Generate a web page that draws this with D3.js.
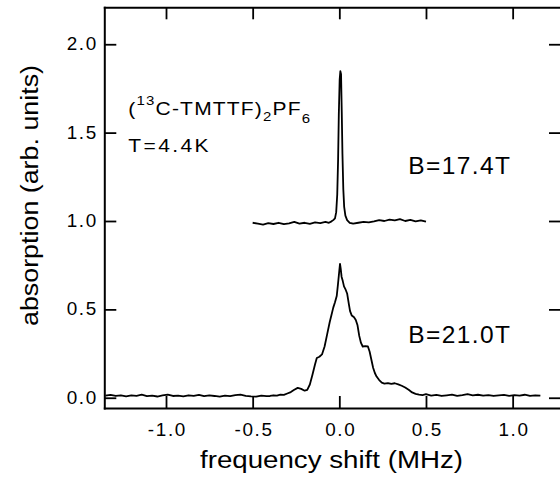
<!DOCTYPE html>
<html>
<head>
<meta charset="utf-8">
<script src="https://cdn.jsdelivr.net/npm/d3@7"></script>
<style>
body { margin: 0; background: #fff; }
svg { display: block; font-family: "Liberation Sans", Arial, Helvetica, sans-serif; }
</style>
</head>
<body>
<svg id="chart" width="560" height="478"></svg>
<script>
// axis ticks
var xTicks = [-1.0, -0.5, 0.0, 0.5, 1.0];
var xTickLabels = ["-1.0", "-0.5", "0.0", "0.5", "1.0"];
var yTicks = [0.0, 0.5, 1.0, 1.5, 2.0];
var yTickLabels = ["0.0", "0.5", "1.0", "1.5", "2.0"];

// B=21.0T spectrum
var freq21 = [-1.35, -1.32, -1.29, -1.26, -1.23, -1.20, -1.17, -1.14, -1.11, -1.08, -1.05, -1.02,
  -0.99, -0.96, -0.93, -0.90, -0.87, -0.84, -0.81, -0.78, -0.75, -0.72, -0.69, -0.66, -0.63,
  -0.60, -0.57, -0.54, -0.51, -0.48, -0.45, -0.42, -0.40, -0.38, -0.36, -0.34, -0.32, -0.30,
  -0.28, -0.26, -0.24, -0.22, -0.20, -0.185, -0.17, -0.155, -0.14, -0.13, -0.115, -0.10,
  -0.085, -0.07, -0.055, -0.045, -0.035, -0.025, -0.015, -0.008, 0.0, 0.004, 0.008, 0.013,
  0.020, 0.027, 0.035, 0.045, 0.055, 0.062, 0.072, 0.085, 0.095, 0.105, 0.115, 0.125, 0.135,
  0.150, 0.165, 0.175, 0.185, 0.195, 0.205, 0.215, 0.23, 0.245, 0.26, 0.28, 0.30, 0.32, 0.34,
  0.36, 0.38, 0.40, 0.42, 0.44, 0.46, 0.48, 0.50, 0.53, 0.56, 0.59, 0.62, 0.65, 0.68, 0.71,
  0.74, 0.77, 0.80, 0.83, 0.86, 0.89, 0.92, 0.95, 0.98, 1.01, 1.04, 1.07, 1.10, 1.13, 1.16];
var abs21 = [0.012, 0.016, 0.010, 0.014, 0.008, 0.013, 0.011, 0.017, 0.009, 0.012, 0.007, 0.013,
  0.018, 0.010, 0.012, 0.008, 0.014, 0.011, 0.016, 0.009, 0.013, 0.010, 0.006, 0.012, 0.009,
  0.015, 0.018, 0.011, 0.008, 0.006, 0.012, 0.009, 0.010, 0.014, 0.012, 0.018, 0.016, 0.024,
  0.032, 0.045, 0.056, 0.050, 0.040, 0.045, 0.075, 0.13, 0.19, 0.225, 0.232, 0.245,
  0.29, 0.36, 0.43, 0.47, 0.51, 0.54, 0.575, 0.64, 0.72, 0.757, 0.73, 0.685,
  0.66, 0.63, 0.615, 0.59, 0.53, 0.49, 0.465, 0.455, 0.44, 0.41, 0.35, 0.31, 0.29,
  0.292, 0.29, 0.26, 0.215, 0.17, 0.14, 0.12, 0.10, 0.085, 0.08, 0.083, 0.078, 0.082, 0.076,
  0.068, 0.058, 0.045, 0.030, 0.022, 0.018, 0.015, 0.020, 0.012, 0.016, 0.010, 0.014, 0.018, 0.011, 0.015,
  0.020, 0.013, 0.017, 0.012, 0.015, 0.010, 0.014, 0.016, 0.011, 0.015, 0.012, 0.017, 0.011, 0.014, 0.012];

// B=17.4T spectrum, offset by 1
var freq17 = [-0.50, -0.47, -0.44, -0.41, -0.38, -0.35, -0.32, -0.29, -0.26, -0.23, -0.20, -0.17,
  -0.14, -0.11, -0.08, -0.06, -0.045, -0.035, -0.025, -0.018, -0.012, -0.007, -0.003, 0.002,
  0.006, 0.010, 0.014, 0.018, 0.023, 0.028, 0.035, 0.045, 0.06, 0.08, 0.11, 0.14, 0.17, 0.20,
  0.23, 0.26, 0.29, 0.32, 0.35, 0.38, 0.41, 0.44, 0.47, 0.50];
var abs17 = [0.990, 0.985, 0.980, 0.988, 0.983, 0.990, 0.982, 0.987, 0.995, 0.985, 0.990, 0.984,
  0.992, 0.988, 0.995, 0.990, 0.998, 1.005, 1.015, 1.05, 1.15, 1.35, 1.60, 1.80,
  1.848, 1.83, 1.62, 1.38, 1.18, 1.08, 1.03, 1.005, 0.99, 0.985, 0.99, 0.995, 0.992, 0.998,
  1.005, 1.0, 1.008, 1.003, 1.01, 1.0, 1.006, 0.998, 1.004, 0.996];

var svg = d3.select("#chart");

var x = d3.scaleLinear().domain([-1.356, 1.279]).range([104.3, 561]);
var y = d3.scaleLinear().domain([-0.058, 2.209]).range([408, 7.3]);

function styleAxis(g) {
  g.attr("font-family", null).attr("font-size", null);
  g.select(".domain").attr("stroke", "#000").attr("stroke-width", 2).attr("stroke-linecap", "square");
  g.selectAll(".tick line").attr("stroke", "#000").attr("stroke-width", 1.8);
  g.selectAll(".tick text").attr("fill", "#000").style("font-size", "17.5px").style("letter-spacing", "1.5px");
}

// bottom
svg.append("g")
  .attr("transform", "translate(0,408)")
  .call(d3.axisBottom(x).tickValues(xTicks).tickFormat(function(d, i) { return xTickLabels[i]; })
    .tickSizeInner(-12).tickSizeOuter(0).tickPadding(16))
  .call(styleAxis)
  .selectAll(".tick text").attr("x", 0.8).attr("transform", "scale(1.08,1)");

// top
svg.append("g")
  .attr("transform", "translate(0,7.3)")
  .call(d3.axisTop(x).tickValues(xTicks).tickFormat("").tickSizeInner(-12).tickSizeOuter(0))
  .call(styleAxis);

// left
svg.append("g")
  .attr("transform", "translate(104.3,0)")
  .call(d3.axisLeft(y).tickValues(yTicks).tickFormat(function(d, i) { return yTickLabels[i]; })
    .tickSizeInner(-12).tickSizeOuter(0).tickPadding(5.5))
  .call(styleAxis)
  .selectAll(".tick text").attr("x", -6).attr("transform", "scale(1.08,1)");

// right
svg.append("g")
  .attr("transform", "translate(561,0)")
  .call(d3.axisRight(y).tickValues(yTicks).tickFormat("").tickSizeInner(-12).tickSizeOuter(0))
  .call(styleAxis);

var line = d3.line()
  .x(function(d) { return x(d[0]); })
  .y(function(d) { return y(d[1]); });

svg.append("path")
  .datum(d3.zip(freq21, abs21))
  .attr("d", line)
  .attr("fill", "none").attr("stroke", "#000").attr("stroke-width", 1.8)
  .attr("stroke-linejoin", "round");

svg.append("path")
  .datum(d3.zip(freq17, abs17))
  .attr("d", line)
  .attr("fill", "none").attr("stroke", "#000").attr("stroke-width", 1.8)
  .attr("stroke-linejoin", "round");

// axis titles
svg.append("text")
  .attr("x", 331.5).attr("y", 468.3)
  .attr("text-anchor", "middle")
  .attr("textLength", 263).attr("lengthAdjust", "spacingAndGlyphs")
  .style("font-size", "23px")
  .text("frequency shift (MHz)");

svg.append("text")
  .attr("transform", "translate(37.5,195.5) rotate(-90)")
  .attr("text-anchor", "middle")
  .attr("textLength", 261).attr("lengthAdjust", "spacingAndGlyphs")
  .style("font-size", "23px")
  .text("absorption (arb. units)");

// sample label
var formula = svg.append("text")
  .attr("transform", "translate(128.3,115) scale(1.2,1)")
  .style("font-size", "17.5px")
  .style("letter-spacing", "1px");
formula.append("tspan").text("(");
formula.append("tspan").attr("dy", -10).style("font-size", "12.5px").text("13");
formula.append("tspan").attr("dy", 10).text("C-TMTTF)");
formula.append("tspan").attr("dy", 6).style("font-size", "12.5px").text("2");
formula.append("tspan").attr("dy", -6).text("PF");
formula.append("tspan").attr("dy", 8).style("font-size", "12.5px").text("6");

svg.append("text")
  .attr("transform", "translate(128.3,151.7) scale(1.2,1)")
  .style("font-size", "17.5px")
  .style("letter-spacing", "2px")
  .text("T=4.4K");

svg.append("text")
  .attr("x", 408.3).attr("y", 174)
  .style("font-size", "24.5px").style("letter-spacing", "1.4px")
  .text("B=17.4T");

svg.append("text")
  .attr("x", 408.3).attr("y", 342.7)
  .style("font-size", "24.5px").style("letter-spacing", "1.4px")
  .text("B=21.0T");
</script>
</body>
</html>
